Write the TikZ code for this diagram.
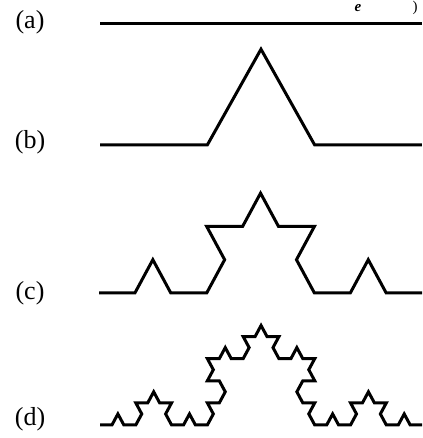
\documentclass[tikz,border=0pt]{standalone}
\usepackage{fontspec}
\setmainfont{Liberation Serif}
\begin{document}
\begin{tikzpicture}[x=1pt,y=1pt]
\tikzset{kochline/.style={draw=black, line width=3pt, line join=miter, miter limit=10},
  lab/.style={font=\fontsize{26}{26}\selectfont, inner sep=0pt},
  frag/.style={font=\fontsize{15}{15}\selectfont, inner sep=0pt, anchor=base}}
\useasboundingbox (0,0) rectangle (422,438);
% labels
\node[lab] (la) at (30,416) {(a)};
\node[lab] (lb) at (30,296) {(b)};
\node[lab] (lc) at (30,145) {(c)};
\node[lab] (ld) at (30,19) {(d)};
% fragments of text at the top edge
\node[frag, font=\fontsize{15}{15}\selectfont\itshape\bfseries] (te) at (358,426) {e};
\node[frag] (tp) at (415,426) {)};
% start points
\coordinate (sa) at (100,414);
\coordinate (sb) at (100,293);
\coordinate (sc) at (99,145);
\coordinate (sd) at (100,13);
\def\kdir#1{60*((mod(#1,4)==1)-(mod(#1,4)==2)+(mod(floor(#1/4),4)==1)-(mod(floor(#1/4),4)==2)+(mod(floor(#1/16),4)==1)-(mod(floor(#1/16),4)==2))}
% (a) order 0
\path[kochline] (sa) -- ++(322,0);
% (b) order 1
\begin{scope}[yscale=1.03]
\path[kochline] (sb) \foreach \k [evaluate=\k as \d using {\kdir{\k}}] in {0,...,3} {-- ++(\d:107.33)};
\end{scope}
% (c) order 2
\begin{scope}[yscale=1.07]
\path[kochline] (sc) \foreach \k [evaluate=\k as \d using {\kdir{\k}}] in {0,...,15} {-- ++(\d:35.9)};
\end{scope}
% (d) order 3
\begin{scope}[yscale=1.07]
\path[kochline] (sd) \foreach \k [evaluate=\k as \d using {\kdir{\k}}] in {0,...,63} {-- ++(\d:11.93)};
\end{scope}
\end{tikzpicture}
\end{document}
